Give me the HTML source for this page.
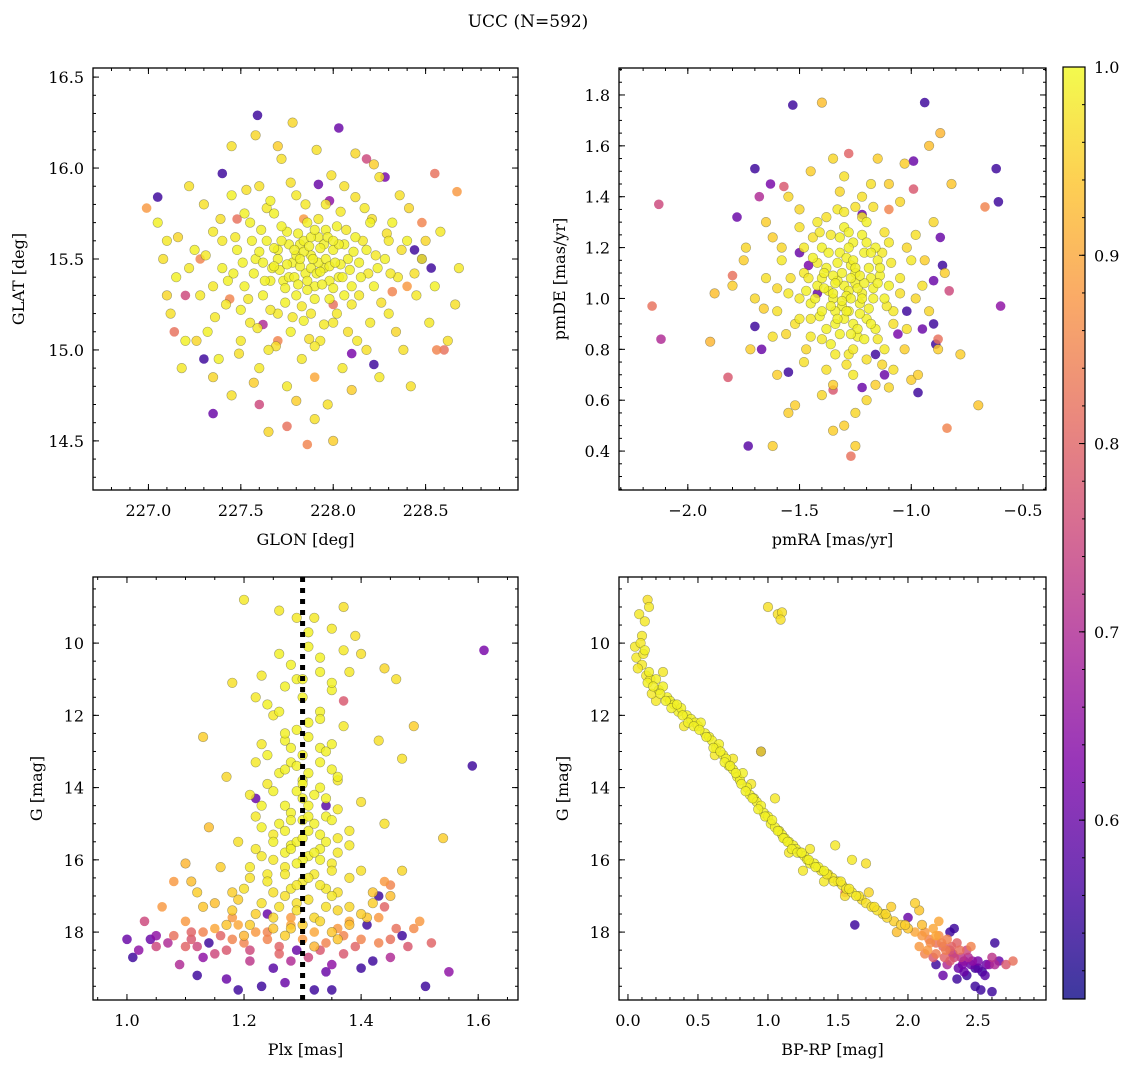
<!DOCTYPE html>
<html><head><meta charset="utf-8">
<style>
body{margin:0;background:#fff;}
svg{display:block;font-family:"DejaVu Serif","Liberation Serif",serif;}
</style></head>
<body>
<svg id="fig" width="1136" height="1067" viewBox="0 0 1136 1067">
<text x="528" y="27" font-size="17" text-anchor="middle">UCC (N=592)</text>
</svg>
<script>
// ---------- Panel 1: GLON / GLAT ----------
const glonVals=[227.05,227.10,227.15,227.12,227.20,227.18,227.25,227.28,227.30,227.32,227.35,227.38,227.40,227.42,227.45,227.45,227.48,227.50,227.52,227.55,227.55,227.58,227.60,227.60,227.62,227.64,227.65,227.67,227.68,227.70,227.70,227.72,227.73,227.75,227.75,227.77,227.78,227.80,227.80,227.82,227.83,227.85,227.86,227.88,227.88,227.90,227.91,227.92,227.93,227.95,227.96,227.97,227.98,228.00,228.00,228.02,228.03,228.05,228.06,228.08,228.10,228.12,228.13,228.15,228.17,228.18,228.20,228.22,228.25,228.25,228.28,228.30,228.32,228.35,228.38,228.40,228.42,228.45,228.48,228.52,228.55,228.58,228.62,228.68,228.66,227.58,227.78,227.45,228.12,227.65,227.90,228.00,227.35,227.22,227.08,227.92,227.84,227.76,227.86,227.95,228.04,227.70,227.80,227.74,227.88,227.98,227.66,227.62,228.06,227.84,227.96,228.10,227.56,227.52,227.66,228.14,228.20,227.40,227.35,227.46,228.24,228.30,227.50,227.90,228.36,227.22,
227.59,228.03,227.40,228.55,228.67,227.05,226.99,228.28,227.92,228.53,228.44,227.28,227.20,227.14,227.30,227.35,227.60,227.75,227.86,228.22,228.10,227.70,227.84,228.00,228.32,228.60,228.56,228.40,227.48,228.48,227.98,227.62,227.44,227.90,228.18,228.48];
const glatVals=[15.70,15.60,15.40,15.20,15.05,14.90,15.55,15.30,15.80,15.10,15.65,14.95,15.45,15.25,15.85,14.75,15.55,15.05,15.35,15.70,15.15,15.50,15.90,14.90,15.30,15.60,15.00,15.45,15.75,15.20,15.55,16.05,15.38,14.80,15.65,15.10,15.48,15.85,15.30,15.58,14.95,15.42,15.70,15.20,15.52,15.35,16.10,15.62,15.05,15.45,15.80,14.70,15.28,15.55,15.15,15.68,15.40,14.90,15.90,15.50,15.25,15.62,15.05,15.40,15.78,15.55,15.15,15.35,15.95,14.85,15.50,15.20,15.70,15.40,15.00,15.60,14.80,15.30,15.50,15.15,15.35,15.65,15.05,15.45,15.25,16.18,16.25,16.12,16.08,14.55,14.62,14.50,14.85,15.90,15.50,15.48,15.60,15.40,15.33,15.58,15.47,15.50,15.52,15.26,15.45,15.38,15.38,15.48,15.58,15.16,15.66,15.35,15.60,15.75,15.82,15.48,15.70,15.60,15.35,15.42,15.45,15.60,15.22,15.02,15.85,15.45,
16.29,16.22,15.97,15.97,15.87,15.84,15.78,15.95,15.91,15.45,15.55,15.50,15.30,15.10,14.95,14.65,14.70,14.58,14.48,14.92,14.98,15.05,15.72,15.25,15.32,15.00,15.00,15.35,15.72,15.50,15.82,15.14,15.28,14.85,16.05,15.70];
const prob1=[0.99,0.98,0.99,0.97,0.99,0.98,0.99,0.98,0.97,0.99,0.98,0.99,0.99,0.98,0.99,0.97,0.99,0.98,0.99,0.99,0.98,0.99,0.97,0.98,0.99,0.99,0.98,0.99,0.99,0.98,0.99,0.97,0.99,0.98,0.99,0.99,0.99,0.98,0.99,0.99,0.98,0.99,0.99,0.98,0.99,0.99,0.97,0.99,0.98,0.99,0.98,0.97,0.99,0.99,0.98,0.99,0.99,0.98,0.97,0.99,0.98,0.99,0.98,0.99,0.98,0.99,0.98,0.99,0.97,0.98,0.99,0.98,0.99,0.98,0.97,0.99,0.97,0.98,0.99,0.98,0.99,0.98,0.97,0.98,0.97,0.96,0.96,0.97,0.96,0.96,0.97,0.95,0.96,0.97,0.97,0.99,0.99,0.99,0.99,0.99,0.99,0.99,0.99,0.99,0.99,0.99,0.99,0.99,0.99,0.99,0.99,0.99,0.99,0.99,0.99,0.99,0.99,0.98,0.98,0.99,0.99,0.98,0.99,0.98,0.97,0.98,
0.55,0.60,0.55,0.82,0.88,0.55,0.88,0.62,0.60,0.55,0.55,0.85,0.75,0.82,0.55,0.60,0.75,0.82,0.85,0.55,0.62,0.85,0.88,0.82,0.85,0.82,0.85,0.88,0.82,0.58,0.65,0.70,0.85,0.90,0.75,0.85];
const glonCore=[227.31,227.36,227.39,227.43,227.47,227.49,227.51,227.53,227.54,227.57,227.59,227.61,227.63,227.64,227.66,227.68,227.69,227.71,227.72,227.74,227.76,227.77,227.78,227.79,227.81,227.82,227.83,227.84,227.85,227.86,227.87,227.88,227.89,227.90,227.91,227.92,227.93,227.94,227.95,227.96,227.97,227.98,227.99,228.00,228.01,228.02,228.03,228.04,228.05,228.07,228.08,228.09,228.11,228.12,228.14,228.16,228.18,228.19,228.21,228.23,228.26,228.29,228.31,228.34,228.37,228.41,228.44,228.50,227.26,227.16,227.10,227.57,227.80,228.10,227.70,228.22,227.82,227.79,227.87,227.75,227.93,227.81,227.68,228.00,227.90,227.72,227.60,228.06];
const glatCore=[15.52,15.18,15.72,15.38,15.62,14.98,15.48,15.88,15.28,15.42,15.12,15.66,15.38,15.78,15.22,15.56,15.02,15.44,15.68,15.34,15.58,15.92,15.18,15.40,15.64,15.46,15.24,15.54,15.80,15.38,15.06,15.62,15.50,15.28,15.42,15.72,15.56,15.36,15.14,15.50,15.62,15.46,15.96,15.34,15.48,15.20,15.58,15.76,15.40,15.66,15.10,15.44,15.54,15.84,15.30,15.60,15.00,15.42,15.72,15.52,15.26,15.64,15.42,15.10,15.55,15.78,15.42,15.60,15.05,15.62,15.30,14.82,14.72,14.78,16.12,16.02,15.50,15.55,15.57,15.47,15.43,15.36,15.46,15.60,15.66,15.60,15.54,15.30];
const probCore1=[0.98,0.98,0.97,0.99,0.98,0.97,0.99,0.97,0.98,0.99,0.98,0.99,0.99,0.98,0.98,0.99,0.97,0.99,0.99,0.99,0.99,0.97,0.98,0.99,0.99,0.99,0.98,0.99,0.98,0.99,0.97,0.99,0.99,0.99,0.99,0.98,0.99,0.99,0.98,0.99,0.99,0.99,0.97,0.99,0.99,0.98,0.99,0.98,0.99,0.98,0.97,0.99,0.99,0.97,0.98,0.98,0.97,0.98,0.97,0.98,0.97,0.97,0.98,0.96,0.97,0.96,0.97,0.96,0.96,0.96,0.96,0.95,0.95,0.95,0.95,0.95,0.99,0.99,0.99,0.99,0.99,0.99,0.99,0.99,0.99,0.99,0.99,0.99];
const xTicks1=[227.0,227.5,228.0,228.5], yTicks1=[14.5,15.0,15.5,16.0,16.5];

// ---------- Panel 2: pmRA / pmDE ----------
const pmraVals=[-1.30,-1.25,-1.35,-1.28,-1.22,-1.38,-1.32,-1.18,-1.42,-1.26,-1.20,-1.34,-1.45,-1.15,-1.40,-1.24,-1.30,-1.12,-1.48,-1.36,-1.10,-1.50,-1.20,-1.28,-1.05,-1.55,-1.42,-1.16,-1.08,-1.58,-1.33,-1.22,-1.00,-1.60,-1.45,-1.12,-1.38,-1.26,-1.02,-1.65,-1.50,-1.18,-0.98,-1.62,-1.48,-1.08,-1.30,-0.95,-1.70,-1.40,-1.20,-1.55,-1.05,-0.92,-1.75,-1.35,-1.10,-1.25,-1.60,-0.90,-1.72,-1.45,-0.88,-1.80,-1.30,-1.00,-1.52,-0.85,-1.65,-1.15,-1.40,-1.62,-1.88,-0.82,-1.03,-0.87,-0.70,-0.78,-0.92,-1.28,-1.33,-1.23,-1.27,-1.37,-1.21,-1.31,-1.17,-1.29,-1.35,-1.41,-1.19,-1.25,-1.32,-1.14,-1.38,-1.44,-1.26,-1.22,-1.34,-1.16,-1.40,-1.10,-1.47,-1.90,-1.25,-1.74,-0.97,-1.35,-1.55,
-1.53,-0.94,-2.13,-2.16,-2.12,-1.70,-1.78,-1.63,-1.68,-1.57,-1.28,-1.22,-1.42,-1.10,-0.99,-0.99,-0.62,-0.61,-0.67,-0.87,-0.86,-0.90,-0.83,-0.60,-0.90,-0.88,-0.89,-0.95,-1.02,-1.70,-1.67,-1.55,-1.82,-1.73,-1.22,-1.35,-1.27,-0.84,-1.12,-0.97,-1.80,-1.50,-1.46,-1.16,-1.06];
const pmdeVals=[1.05,1.10,1.00,0.95,1.02,1.12,1.18,1.08,1.05,1.22,0.92,0.90,0.98,1.15,1.20,0.85,1.28,1.00,1.10,0.82,1.22,0.92,1.30,0.78,1.08,1.02,1.30,0.88,0.95,1.15,1.35,1.40,1.15,0.95,0.85,0.80,0.72,0.70,0.88,1.08,1.28,1.45,1.25,0.85,0.75,0.72,1.48,1.05,1.00,0.62,0.60,1.40,1.38,0.95,1.15,1.55,0.65,0.55,0.70,1.30,0.80,1.50,0.80,1.05,0.50,0.68,0.58,1.10,1.30,1.55,1.77,0.42,1.02,1.45,1.53,1.65,0.58,0.78,1.60,1.03,1.07,0.98,1.13,1.03,1.18,0.97,1.04,1.16,1.09,0.93,0.96,1.06,1.24,1.09,0.88,1.16,0.90,1.25,0.95,1.20,1.08,1.05,1.03,0.83,0.42,1.20,0.70,0.48,0.55,
1.76,1.77,1.37,0.97,0.84,1.51,1.32,1.45,1.40,1.44,1.57,1.33,1.02,1.35,1.43,1.54,1.51,1.38,1.36,1.24,1.13,1.07,1.03,0.97,0.90,0.84,0.82,0.88,0.95,0.89,0.80,0.71,0.69,0.42,0.65,0.64,0.38,0.49,0.70,0.63,1.09,1.18,1.13,0.78,0.86];
const prob2=[0.99,0.99,0.99,0.99,0.99,0.99,0.99,0.99,0.99,0.99,0.99,0.99,0.99,0.99,0.99,0.99,0.99,0.99,0.98,0.99,0.98,0.98,0.99,0.98,0.98,0.98,0.98,0.99,0.98,0.98,0.98,0.97,0.98,0.97,0.98,0.98,0.97,0.98,0.97,0.97,0.97,0.97,0.97,0.97,0.97,0.97,0.97,0.97,0.96,0.96,0.96,0.96,0.96,0.96,0.95,0.96,0.96,0.96,0.95,0.96,0.95,0.95,0.95,0.95,0.95,0.95,0.95,0.95,0.95,0.95,0.93,0.95,0.93,0.94,0.95,0.92,0.94,0.95,0.93,0.99,0.99,0.99,0.99,0.99,0.99,0.99,0.99,0.99,0.99,0.99,0.99,0.99,0.99,0.99,0.99,0.99,0.99,0.99,0.99,0.99,0.99,0.99,0.99,0.92,0.95,0.96,0.95,0.95,0.95,
0.55,0.55,0.75,0.82,0.70,0.55,0.60,0.62,0.70,0.78,0.80,0.60,0.60,0.85,0.78,0.60,0.55,0.55,0.85,0.60,0.55,0.60,0.75,0.65,0.55,0.82,0.55,0.60,0.55,0.55,0.60,0.55,0.78,0.58,0.60,0.78,0.82,0.85,0.60,0.55,0.82,0.60,0.62,0.55,0.62];
const pmraCore=[-1.29,-1.24,-1.34,-1.27,-1.31,-1.21,-1.36,-1.26,-1.19,-1.39,-1.33,-1.23,-1.30,-1.17,-1.43,-1.28,-1.20,-1.37,-1.14,-1.46,-1.24,-1.32,-1.40,-1.11,-1.18,-1.28,-1.36,-1.42,-1.09,-1.50,-1.22,-1.30,-1.15,-1.40,-1.48,-1.05,-1.54,-1.26,-1.34,-1.12,-1.44,-1.20,-1.08,-1.52,-1.38,-1.17,-1.58,-1.02,-1.47,-1.13,-1.29,-1.60,-1.25,-1.32,-1.03,-1.56,-1.27,-1.25,-1.31,-1.35,-1.22,-1.29,-1.18,-1.39,-1.33,-1.23,-1.15,-1.45,-1.27,-1.21,-1.41,-1.13,-0.98,-1.66,-1.35,-1.16,-1.50,-1.10,-1.62,-0.94];
const pmdeCore=[1.01,1.04,1.06,1.08,0.99,1.06,0.97,1.15,1.12,1.10,1.14,0.94,0.92,1.00,1.00,1.20,1.22,1.18,1.12,1.08,0.88,0.86,0.95,0.97,0.90,1.26,1.25,1.14,1.14,1.00,1.32,1.34,0.84,0.84,1.20,1.02,1.08,0.80,0.78,1.26,1.24,0.76,0.90,0.90,1.32,1.36,1.20,1.20,0.80,0.74,0.74,1.04,1.36,1.42,0.80,0.86,1.00,1.12,1.10,1.02,1.00,0.95,1.18,1.04,0.92,1.09,1.06,0.92,0.86,0.84,1.26,1.18,1.00,0.96,0.66,0.66,1.35,1.45,1.24,1.15];
const probCore2=[0.99,0.99,0.99,0.99,0.99,0.99,0.99,0.99,0.99,0.99,0.99,0.99,0.99,0.99,0.99,0.99,0.99,0.99,0.99,0.98,0.99,0.99,0.99,0.98,0.99,0.99,0.98,0.98,0.98,0.98,0.98,0.98,0.98,0.98,0.98,0.97,0.97,0.98,0.98,0.97,0.97,0.97,0.97,0.97,0.97,0.97,0.96,0.96,0.96,0.96,0.97,0.96,0.97,0.96,0.95,0.96,0.99,0.99,0.99,0.99,0.99,0.99,0.99,0.99,0.99,0.99,0.99,0.98,0.99,0.99,0.98,0.98,0.96,0.95,0.95,0.95,0.96,0.95,0.95,0.95];
const xTicks2=[-2.0,-1.5,-1.0,-0.5], yTicks2=[0.4,0.6,0.8,1.0,1.2,1.4,1.6,1.8];

// ---------- Panel 3: Plx / G ----------
const plxVals=[1.20,1.26,1.37,1.32,1.29,1.35,1.39,1.31,1.37,1.40,1.28,1.33,1.38,1.23,1.46,1.27,1.35,1.18,1.22,1.30,1.33,1.25,1.37,1.29,1.43,1.23,1.33,1.47,1.28,1.35,1.17,1.30,1.24,1.32,1.27,1.36,1.22,1.30,1.44,1.25,1.33,1.19,1.28,1.38,1.23,1.31,1.35,1.16,1.27,1.40,1.21,1.30,1.11,1.34,1.25,1.45,1.19,1.29,1.36,1.22,1.32,1.41,1.54,1.49,1.44,1.13,1.14,1.10,1.31,1.33,1.26,1.29,1.35,1.24,1.31,1.27,1.34,1.29,1.26,1.33,1.30,1.28,1.34,1.26,1.31,1.29,1.33,1.27,1.30,1.24,1.32,1.28,1.35,1.26,1.30,1.38,1.21,1.36,1.22,1.40,1.18,1.15,1.42,1.38,1.25,1.32,1.20,
1.61,1.59,1.37,1.22,1.34,1.44,1.45,1.08,1.10,1.06,1.00,1.01,1.03,1.05,1.07,1.04,1.11,1.12,1.13,1.14,1.16,1.18,1.19,1.21,1.24,1.26,1.28,1.30,1.33,1.35,1.37,1.39,1.41,1.43,1.45,1.47,1.50,1.51,1.55,1.40,1.32,1.27,1.12,1.09,1.17,1.23,1.35,1.42,1.08,1.15,1.20,1.22,1.18,1.28,1.36,1.46,1.48,1.44,1.43,1.24,1.29,1.25,1.34,1.11,1.02];
const gVals3=[8.8,9.1,9.0,9.3,9.3,9.6,9.8,10.1,10.2,10.3,10.6,10.8,10.8,10.9,11.0,11.2,11.3,11.1,11.5,11.5,11.9,12.0,12.3,12.4,12.7,12.8,12.9,13.2,13.3,13.5,13.7,13.8,13.9,14.2,14.5,14.6,14.8,14.9,15.0,15.3,15.3,15.5,15.6,15.6,15.9,15.9,16.1,16.2,16.2,16.3,16.5,16.6,16.6,16.8,16.9,17.0,17.1,17.2,17.4,17.5,17.6,17.6,15.4,12.3,10.7,12.6,15.1,16.1,9.7,10.4,10.3,11.0,11.1,11.7,12.2,12.7,13.0,13.4,13.6,14.0,14.3,14.7,14.8,15.0,15.2,15.5,15.7,15.8,16.0,16.4,16.4,16.8,17.0,17.3,17.8,15.2,14.2,13.8,13.3,14.4,16.9,17.2,16.9,17.8,17.9,18.4,18.1,
10.2,13.4,11.6,14.3,14.5,16.6,16.7,16.6,17.7,17.3,18.2,18.7,17.7,18.1,18.3,18.2,18.0,18.4,18.7,18.3,18.1,18.2,19.6,18.5,18.0,18.4,18.8,18.2,18.5,18.9,18.1,18.4,17.8,18.3,18.7,18.1,17.7,19.5,19.1,19.0,19.6,19.4,19.2,18.9,19.3,19.5,19.6,18.8,18.1,18.6,18.3,18.0,17.6,17.6,17.9,17.9,18.4,17.3,17.0,17.5,18.5,19.0,19.1,18.2,18.5];
const prob3=[0.98,0.98,0.97,0.98,0.98,0.98,0.97,0.99,0.98,0.97,0.99,0.99,0.98,0.98,0.97,0.99,0.99,0.97,0.98,0.99,0.99,0.98,0.98,0.99,0.97,0.98,0.99,0.97,0.99,0.99,0.96,0.99,0.98,0.99,0.99,0.98,0.98,0.99,0.97,0.98,0.99,0.97,0.99,0.98,0.98,0.99,0.98,0.95,0.98,0.97,0.97,0.98,0.93,0.98,0.97,0.93,0.95,0.97,0.96,0.95,0.96,0.94,0.95,0.95,0.96,0.95,0.93,0.92,0.99,0.99,0.99,0.99,0.99,0.99,0.99,0.99,0.99,0.99,0.99,0.99,0.99,0.99,0.99,0.99,0.99,0.99,0.99,0.99,0.99,0.98,0.98,0.98,0.98,0.97,0.95,0.98,0.98,0.98,0.98,0.97,0.95,0.93,0.94,0.93,0.94,0.92,0.92,
0.62,0.55,0.78,0.60,0.58,0.88,0.85,0.88,0.88,0.88,0.60,0.55,0.75,0.65,0.70,0.60,0.80,0.75,0.65,0.55,0.80,0.85,0.55,0.75,0.85,0.80,0.70,0.88,0.78,0.65,0.85,0.80,0.55,0.85,0.70,0.55,0.88,0.55,0.65,0.55,0.55,0.60,0.55,0.70,0.60,0.55,0.55,0.55,0.82,0.75,0.85,0.88,0.88,0.88,0.88,0.82,0.78,0.80,0.55,0.60,0.60,0.58,0.60,0.78,0.65];
const plxCore=[1.27,1.31,1.35,1.24,1.30,1.33,1.27,1.31,1.36,1.25,1.29,1.34,1.23,1.31,1.28,1.35,1.32,1.23,1.27,1.36,1.30,1.25,1.34,1.22,1.28,1.32,1.36,1.25,1.33,1.29,1.21,1.35,1.27,1.31,1.38,1.24,1.29,1.33,1.20,1.36,1.27,1.31,1.23,1.34,1.18,1.29,1.38,1.25,1.33,1.21,1.40,1.28,1.35,1.27,1.36,1.17,1.13,1.42,1.12,1.47,1.31,1.30,1.28,1.33,1.26,1.30,
1.15,1.19,1.28,1.32,1.38,1.43,1.24,1.34,1.40,1.13,1.10,1.26,1.31,1.45,1.49,1.17,1.37,1.21,1.05,1.52];
const gCore3=[12.5,12.6,12.8,13.1,13.1,13.3,13.5,13.6,13.7,14.1,14.1,14.3,14.5,14.5,14.9,14.9,15.0,15.1,15.2,15.4,15.4,15.5,15.5,15.7,15.7,15.8,15.8,16.0,16.0,16.1,16.2,16.3,16.4,16.5,16.5,16.6,16.7,16.7,16.8,16.9,17.0,17.1,17.2,17.3,17.4,17.4,17.3,17.6,17.7,17.8,17.5,17.9,18.0,18.1,18.2,17.8,17.3,17.2,16.9,16.3,14.8,13.9,12.9,12.1,11.9,11.0,
17.9,17.8,17.8,18.0,17.7,17.6,18.2,18.3,18.2,18.0,18.4,18.6,18.7,18.2,17.9,18.5,18.6,18.8,18.4,18.3];
const probCore3=[0.99,0.99,0.99,0.99,0.99,0.99,0.99,0.99,0.99,0.99,0.99,0.99,0.99,0.99,0.99,0.99,0.99,0.99,0.99,0.98,0.99,0.99,0.99,0.98,0.99,0.99,0.98,0.98,0.99,0.99,0.98,0.98,0.98,0.98,0.97,0.98,0.98,0.98,0.97,0.97,0.97,0.97,0.97,0.97,0.95,0.97,0.96,0.96,0.96,0.95,0.95,0.95,0.94,0.95,0.94,0.94,0.94,0.95,0.95,0.96,0.99,0.99,0.99,0.99,0.99,0.99,
0.90,0.90,0.90,0.90,0.90,0.88,0.85,0.85,0.85,0.85,0.80,0.80,0.75,0.82,0.86,0.78,0.78,0.72,0.75,0.80];
const xTicks3=[1.0,1.2,1.4,1.6], yTicks3=[10,12,14,16,18];

// ---------- Panel 4: BP-RP / G ----------
const bprpVals=[0.08,0.12,0.14,0.15,0.05,0.10,0.06,0.12,0.10,0.15,0.14,0.20,0.22,0.25,0.28,0.30,0.33,0.36,0.38,0.42,0.45,0.48,0.50,0.52,0.55,0.58,0.60,0.63,0.65,0.68,0.70,0.72,0.75,0.78,0.80,0.82,0.85,0.87,0.90,0.92,0.95,0.97,1.00,1.02,1.05,1.08,1.10,1.12,1.15,1.18,1.20,1.23,1.26,1.28,1.30,1.33,1.36,1.40,1.43,1.46,1.50,1.53,1.56,1.60,1.63,1.67,1.70,1.74,1.78,1.82,1.85,1.90,1.95,2.00,0.40,0.62,0.88,0.95,1.48,1.60,1.70,1.72,1.30,1.05,0.25,0.20,0.75,1.15,1.40,2.05,2.08,2.10,1.88,1.00,1.07,1.10,1.09,0.07,0.17,1.25,1.55,1.92,
2.05,2.10,2.15,2.18,2.20,2.22,2.25,2.28,2.30,2.32,2.35,2.38,2.40,2.42,2.45,2.48,2.50,2.53,2.55,2.58,2.60,2.62,2.65,2.70,2.75,2.48,2.52,2.60,2.20,2.25,2.35,2.12,2.18,2.28,2.40,2.08,2.45,2.30,2.00,1.62,1.55,0.95,2.22,2.33];
const gVals4=[9.2,9.4,8.8,9.0,10.1,9.8,10.4,10.2,10.6,10.8,11.1,11.0,11.3,11.2,11.5,11.6,11.7,11.9,11.8,12.0,12.1,12.2,12.3,12.2,12.5,12.6,12.7,12.9,12.8,13.1,13.2,13.4,13.5,13.7,13.8,13.6,14.0,14.2,14.3,14.4,14.5,14.7,14.8,15.0,15.1,15.2,15.3,15.4,15.5,15.6,15.7,15.8,15.9,16.0,16.1,16.1,16.2,16.3,16.4,16.5,16.6,16.7,16.8,16.9,17.0,17.1,17.2,17.3,17.4,17.5,17.6,17.7,17.8,17.9,12.3,13.1,13.9,13.0,15.6,16.0,16.1,16.9,15.7,14.3,10.8,11.6,13.2,15.8,16.6,17.2,17.4,17.8,17.3,9.0,9.2,9.15,9.35,10.7,11.4,16.3,17.0,18.0,
18.0,18.1,18.2,17.9,18.3,18.1,18.4,18.2,18.5,18.6,18.3,18.7,18.8,18.5,18.9,19.0,18.8,19.1,19.2,18.9,18.7,18.3,18.8,18.9,18.8,19.5,19.6,19.65,18.9,19.2,19.3,18.6,18.7,18.9,19.1,18.4,18.4,18.0,17.6,17.8,16.9,13.0,17.7,17.9];
const prob4=[0.98,0.98,0.97,0.98,0.98,0.98,0.98,0.99,0.98,0.99,0.99,0.99,0.99,0.99,0.99,0.99,0.99,0.99,0.99,0.99,0.99,0.99,0.99,0.99,0.99,0.99,0.99,0.99,0.99,0.99,0.99,0.99,0.99,0.99,0.99,0.99,0.99,0.99,0.99,0.99,0.99,0.99,0.99,0.99,0.99,0.99,0.99,0.99,0.99,0.99,0.99,0.99,0.99,0.99,0.99,0.99,0.99,0.99,0.98,0.98,0.98,0.98,0.98,0.98,0.98,0.97,0.97,0.97,0.97,0.96,0.96,0.95,0.95,0.94,0.98,0.98,0.98,0.97,0.98,0.98,0.97,0.96,0.98,0.98,0.98,0.98,0.98,0.98,0.98,0.95,0.94,0.93,0.95,0.97,0.97,0.97,0.97,0.98,0.98,0.98,0.97,0.93,
0.90,0.88,0.85,0.90,0.82,0.86,0.80,0.85,0.78,0.70,0.80,0.72,0.65,0.75,0.60,0.55,0.62,0.55,0.58,0.65,0.72,0.55,0.60,0.78,0.82,0.55,0.55,0.55,0.55,0.60,0.55,0.85,0.78,0.70,0.60,0.88,0.85,0.55,0.60,0.55,0.85,0.55,0.90,0.55];
const bprpCore=[0.18,0.23,0.27,0.31,0.35,0.39,0.43,0.47,0.51,0.56,0.61,0.66,0.69,0.73,0.77,0.81,0.84,0.89,0.93,0.98,1.03,1.07,1.11,1.14,1.17,1.21,1.24,1.29,1.34,1.38,1.42,1.47,1.52,1.58,1.65,1.76,1.84,1.98,0.09,0.11,0.13,0.16,
2.12,2.16,2.20,2.24,2.27,2.31,2.33,2.37,2.39,2.43,2.46,2.50,2.26,2.14,2.20,2.42,2.56,2.62,2.30,2.36];
const gCore4=[11.2,11.4,11.6,11.8,11.7,12.0,12.2,12.3,12.4,12.6,12.9,13.0,13.3,13.4,13.6,13.9,14.1,14.3,14.6,14.8,14.9,15.2,15.4,15.5,15.7,15.8,15.8,16.0,16.2,16.3,16.4,16.6,16.6,16.8,17.0,17.3,17.5,17.8,10.0,10.3,10.9,11.0,
18.0,18.3,18.1,18.3,18.5,18.4,18.7,18.5,18.9,18.7,18.8,19.0,18.7,18.5,18.6,19.2,18.9,18.9,18.8,19.0];
const probCore4=[0.99,0.99,0.99,0.99,0.99,0.99,0.99,0.99,0.99,0.99,0.99,0.99,0.99,0.99,0.99,0.99,0.99,0.99,0.99,0.99,0.99,0.99,0.99,0.99,0.99,0.99,0.99,0.99,0.99,0.98,0.98,0.98,0.98,0.98,0.97,0.97,0.96,0.95,0.98,0.98,0.98,0.98,
0.88,0.86,0.90,0.85,0.84,0.80,0.75,0.82,0.62,0.70,0.65,0.58,0.80,0.88,0.84,0.55,0.60,0.70,0.78,0.60];
const xTicks4=[0.0,0.5,1.0,1.5,2.0,2.5], yTicks4=[10,12,14,16,18];

// ---------- Colorbar ----------
const cbarTicks=[0.6,0.7,0.8,0.9,1.0];
const cbarMin=0.505, cbarMax=1.0;

const NS='http://www.w3.org/2000/svg';
const svg=document.getElementById('fig');
function mk(tag,attrs,parent){const e=document.createElementNS(NS,tag);for(const k in attrs)e.setAttribute(k,attrs[k]);(parent||svg).appendChild(e);return e;}
const plasma=[[13,8,135],[75,3,161],[125,3,168],[168,34,150],[203,70,121],[229,107,93],[248,148,65],[253,195,40],[240,249,33]];
function cmap(v){let t=(v-cbarMin)/(cbarMax-cbarMin);t=Math.max(0,Math.min(1,t));const s=t*8;const i=Math.min(7,Math.floor(s));const f=s-i;const a=plasma[i],b=plasma[i+1];return 'rgb('+[0,1,2].map(k=>Math.round(a[k]+(b[k]-a[k])*f)).join(',')+')';}
function fmt(v,d){const s=Math.abs(v).toFixed(d);return (v<0?'\u2212':'')+s;}

function panel(cfg){
  const g=mk('g',{});
  
  
  const X=v=>cfg.x0+(v-cfg.xmin)/(cfg.xmax-cfg.xmin)*(cfg.x1-cfg.x0);
  const Y=cfg.invert? (v=>cfg.y0+(v-cfg.ymin)/(cfg.ymax-cfg.ymin)*(cfg.y1-cfg.y0)) : (v=>cfg.y1-(v-cfg.ymin)/(cfg.ymax-cfg.ymin)*(cfg.y1-cfg.y0));
  const clip=mk('clipPath',{id:'c'+cfg.name},g);
  mk('rect',{x:cfg.x0,y:cfg.y0,width:cfg.x1-cfg.x0,height:cfg.y1-cfg.y0},clip);
  const pts=mk('g',{'clip-path':'url(#c'+cfg.name+')'},g);
  
  
  const idx=cfg.xs.map((_,i)=>i).sort((a,b)=>cfg.ps[a]-cfg.ps[b]);
  idx.forEach(i=>{
    const c=mk('circle',{cx:X(cfg.xs[i]).toFixed(1),cy:Y(cfg.ys[i]).toFixed(1),r:4.8,fill:cmap(cfg.ps[i]),'fill-opacity':0.82,stroke:cfg.ps[i]>0.9?'rgba(60,60,40,0.45)':'none','stroke-width':0.6},pts);
    
    
  });
  if(cfg.vline!==undefined){
    const l=mk('line',{x1:X(cfg.vline),x2:X(cfg.vline),y1:cfg.y0,y2:cfg.y1,stroke:'#000','stroke-width':5,'stroke-dasharray':'5,6'},g);
    
    
  }
  const tk=mk('g',{stroke:'#000','stroke-width':1},g);
  for(let v=cfg.xminorStart;v<=cfg.xmax+1e-9;v+=cfg.xminor){const x=X(v);if(x<cfg.x0||x>cfg.x1)continue;mk('line',{x1:x,x2:x,y1:cfg.y1,y2:cfg.y1-3},tk);mk('line',{x1:x,x2:x,y1:cfg.y0,y2:cfg.y0+3},tk);}
  for(let v=cfg.yminorStart;v<=cfg.ymax+1e-9;v+=cfg.yminor){const y=Y(v);if(y<cfg.y0||y>cfg.y1)continue;mk('line',{x1:cfg.x0,x2:cfg.x0+3,y1:y,y2:y},tk);mk('line',{x1:cfg.x1,x2:cfg.x1-3,y1:y,y2:y},tk);}
  cfg.xt.forEach(v=>{const x=X(v);mk('line',{x1:x,x2:x,y1:cfg.y1,y2:cfg.y1-6},tk);mk('line',{x1:x,x2:x,y1:cfg.y0,y2:cfg.y0+6},tk);
    const t=mk('text',{x:x,y:cfg.y1+26,'font-size':16,'text-anchor':'middle'},g);t.textContent=fmt(v,cfg.xd);
    });
  cfg.yt.forEach(v=>{const y=Y(v);mk('line',{x1:cfg.x0,x2:cfg.x0+6,y1:y,y2:y},tk);mk('line',{x1:cfg.x1,x2:cfg.x1-6,y1:y,y2:y},tk);
    const t=mk('text',{x:cfg.x0-9,y:y+6,'font-size':16,'text-anchor':'end'},g);t.textContent=fmt(v,cfg.yd);
    });
  const fr=mk('rect',{x:cfg.x0,y:cfg.y0,width:cfg.x1-cfg.x0,height:cfg.y1-cfg.y0,fill:'none',stroke:'#000','stroke-width':1.3},g);
  
  const xl=mk('text',{x:(cfg.x0+cfg.x1)/2,y:cfg.y1+55,'font-size':16,'text-anchor':'middle'},g);xl.textContent=cfg.xlabel;
  
  const yc=(cfg.y0+cfg.y1)/2;
  const yl=mk('text',{x:cfg.ylx,y:yc,'font-size':16,'text-anchor':'middle',transform:'rotate(-90 '+cfg.ylx+' '+yc+')'},g);yl.textContent=cfg.ylabel;
  
}

panel({name:'glon-glat-panel',x0:93,x1:518,y0:68,y1:490,xmin:226.70,xmax:229.0,ymin:14.23,ymax:16.55,xs:glonVals.concat(glonCore),ys:glatVals.concat(glatCore),ps:prob1.concat(probCore1),xt:xTicks1,yt:yTicks1,xd:1,yd:1,xminor:0.1,xminorStart:226.7,yminor:0.1,yminorStart:14.3,xlabel:'GLON [deg]',ylabel:'GLAT [deg]',ylx:24});
panel({name:'pm-panel',x0:619,x1:1046,y0:68,y1:490,xmin:-2.308,xmax:-0.397,ymin:0.247,ymax:1.906,xs:pmraVals.concat(pmraCore),ys:pmdeVals.concat(pmdeCore),ps:prob2.concat(probCore2),xt:xTicks2,yt:yTicks2,xd:1,yd:1,xminor:0.1,xminorStart:-2.3,yminor:0.05,yminorStart:0.25,xlabel:'pmRA [mas/yr]',ylabel:'pmDE [mas/yr]',ylx:565});
panel({name:'plx-g-panel',x0:93,x1:518,y0:577,y1:1000,xmin:0.942,xmax:1.668,ymin:8.17,ymax:19.88,invert:true,xs:plxVals.concat(plxCore),ys:gVals3.concat(gCore3),ps:prob3.concat(probCore3),xt:xTicks3,yt:yTicks3,xd:1,yd:0,xminor:0.05,xminorStart:0.95,yminor:0.5,yminorStart:8.5,xlabel:'Plx [mas]',ylabel:'G [mag]',ylx:42,vline:1.3});
panel({name:'cmd-panel',x0:619,x1:1046,y0:577,y1:1000,xmin:-0.064,xmax:2.986,ymin:8.17,ymax:19.88,invert:true,xs:bprpVals.concat(bprpCore),ys:gVals4.concat(gCore4),ps:prob4.concat(probCore4),xt:xTicks4,yt:yTicks4,xd:1,yd:0,xminor:0.1,xminorStart:0.0,yminor:0.5,yminorStart:8.5,xlabel:'BP-RP [mag]',ylabel:'G [mag]',ylx:568});

(function(){
  const cx0=1063,cx1=1085,cy0=67,cy1=999;
  const g=mk('g',{});
  
  
  const defs=mk('defs',{},g);
  const lg=mk('linearGradient',{id:'cbg',x1:0,y1:1,x2:0,y2:0},defs);
  plasma.forEach((c,i)=>mk('stop',{offset:(i/8),'stop-color':'rgb('+c.join(',')+')'},lg));
  mk('rect',{x:cx0,y:cy0,width:cx1-cx0,height:cy1-cy0,fill:'url(#cbg)','fill-opacity':0.8},g);
  mk('rect',{x:cx0,y:cy0,width:cx1-cx0,height:cy1-cy0,fill:'none',stroke:'#000','stroke-width':1.2},g);
  const Y=v=>cy1-(v-cbarMin)/(cbarMax-cbarMin)*(cy1-cy0);
  for(let v=0.52;v<=1.0001;v+=0.02){const y=Y(v);mk('line',{x1:cx1,x2:cx1-3,y1:y,y2:y,stroke:'#000'},g);}
  cbarTicks.forEach(v=>{const y=Y(v);mk('line',{x1:cx1,x2:cx1-6,y1:y,y2:y,stroke:'#000'},g);
    const t=mk('text',{x:cx1+9,y:y+6,'font-size':16},g);t.textContent=v.toFixed(1);
    });
})();
</script>
</body></html>
